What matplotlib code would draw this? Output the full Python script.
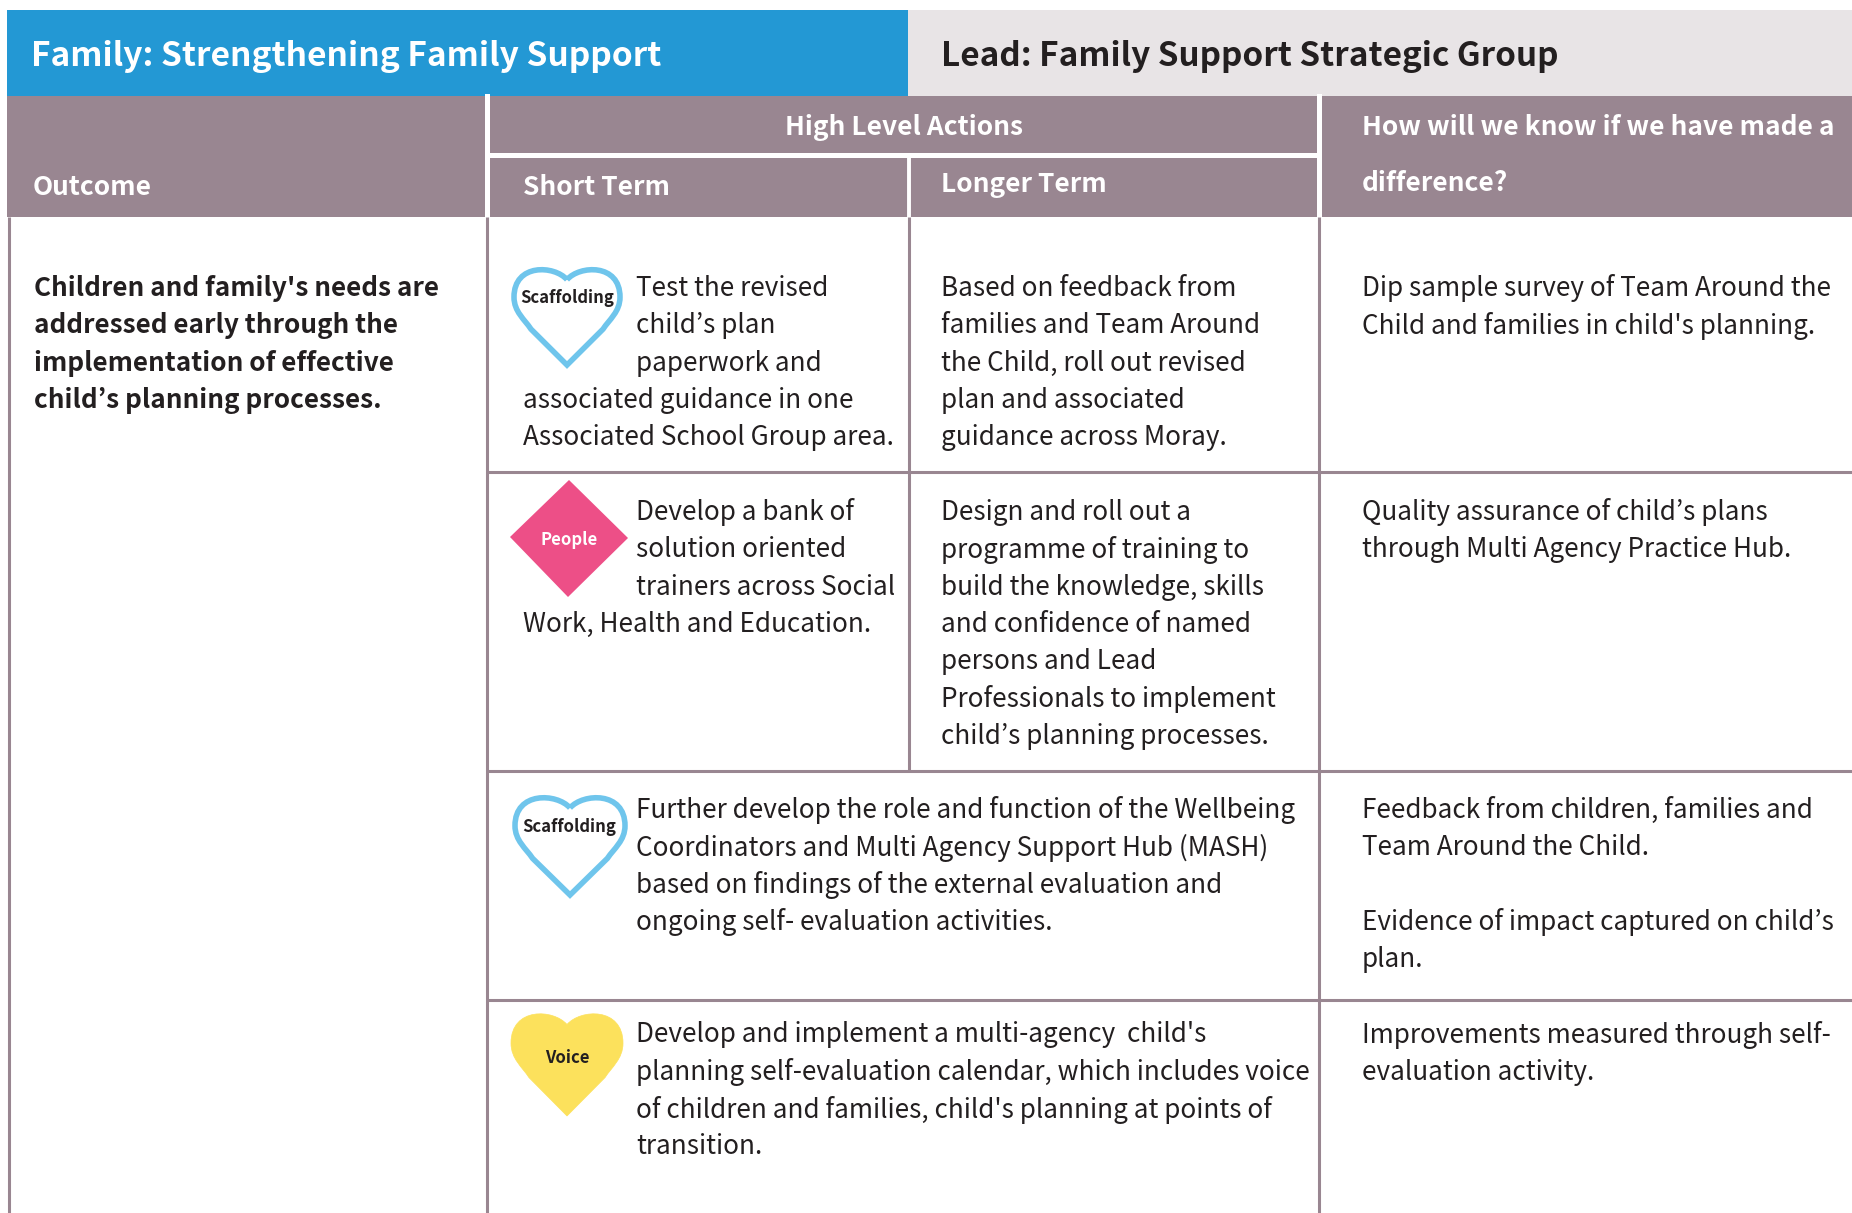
import matplotlib
matplotlib.use("Agg")
import matplotlib.pyplot as plt
from matplotlib.patches import Rectangle, PathPatch, Polygon
from matplotlib.path import Path

# the KR cut keeps the curly apostrophe narrow, the SC one makes it full width
plt.rcParams['font.family'] = ['Noto Sans CJK KR', 'DejaVu Sans']

family_title = "Family: Strengthening Family Support"
lead_title = "Lead: Family Support Strategic Group"
header_labels = ["Outcome", "High Level Actions", "Short Term", "Longer Term"]
difference_lines = ["How will we know if we have made a", "difference?"]

outcome_lines = ["Children and family's needs are", "addressed early through the",
                 "implementation of effective", "child\u2019s planning processes."]

short_1 = ["Test the revised", "child\u2019s plan", "paperwork and"]
short_1_wide = ["associated guidance in one", "Associated School Group area."]
short_2 = ["Develop a bank of", "solution oriented", "trainers across Social"]
short_2_wide = ["Work, Health and Education."]
long_1 = ["Based on feedback from", "families and Team Around", "the Child, roll out revised",
          "plan and associated", "guidance across Moray."]
long_2 = ["Design and roll out a", "programme of training to", "build the knowledge, skills",
          "and confidence of named", "persons and Lead", "Professionals to implement",
          "child\u2019s planning processes."]
span_3 = ["Further develop the role and function of the Wellbeing",
          "Coordinators and Multi Agency Support Hub (MASH)",
          "based on findings of the external evaluation and",
          "ongoing self- evaluation activities."]
span_4 = ["Develop and implement a multi-agency  child's",
          "planning self-evaluation calendar, which includes voice",
          "of children and families, child's planning at points of",
          "transition."]
know_1 = ["Dip sample survey of Team Around the", "Child and families in child's planning."]
know_2 = ["Quality assurance of child\u2019s plans", "through Multi Agency Practice Hub."]
know_3 = ["Feedback from children, families and", "Team Around the Child.", "",
          "Evidence of impact captured on child\u2019s", "plan."]
know_4 = ["Improvements measured through self-", "evaluation activity."]

BLUE = "#2398d4"
LIGHT = "#e8e4e6"
MAUVE = "#998691"
INK = "#231f20"
PITCH = 37.3
BODY = 18.82


def block(ax, x, y, lines, **kw):
    kw.setdefault("fontsize", BODY)
    kw.setdefault("color", INK)
    for i, line in enumerate(lines):
        ax.text(x, y + i * PITCH, line, va="center", ha="left", **kw)


def heart(ax, x0, x1, y0, y1, face, edge, lw):
    # unit heart, 0-1 across and 0-1 top to bottom
    w = x1 - x0
    h = y1 - y0
    unit = [(0.5, 0.12), (0.38, -0.03), (0.0, -0.05), (0.0, 0.3), (0.0, 0.45), (0.1, 0.53), (0.16, 0.63),
            (0.5, 1.0), (0.84, 0.63), (0.9, 0.53), (1.0, 0.45), (1.0, 0.3), (1.0, -0.05), (0.62, -0.03), (0.5, 0.12)]
    codes = [Path.MOVETO, Path.CURVE4, Path.CURVE4, Path.CURVE4, Path.CURVE4, Path.CURVE4, Path.CURVE4,
             Path.LINETO, Path.LINETO, Path.CURVE4, Path.CURVE4, Path.CURVE4, Path.CURVE4, Path.CURVE4, Path.CURVE4]
    verts = [(x0 + u * w, y0 + v * h) for u, v in unit]
    ax.add_patch(PathPatch(Path(verts, codes), facecolor=face, edgecolor=edge, lw=lw, zorder=3))


fig = plt.figure(figsize=(18.52, 12.13), dpi=100)
ax = fig.add_axes([0, 0, 1, 1])
ax.set_xlim(0, 1852)
ax.set_ylim(1213, 0)
ax.axis("off")

# banner
ax.add_patch(Rectangle((7, 10), 901, 86, facecolor=BLUE, lw=0))
ax.add_patch(Rectangle((908, 10), 944, 86, facecolor=LIGHT, lw=0))
ax.text(31, 56.5, family_title, color="white", fontsize=24.1, fontweight="bold", va="center")
ax.text(941, 56.5, lead_title, color=INK, fontsize=23.95, fontweight="bold", va="center")

# header band
ax.add_patch(Rectangle((7, 96), 1845, 121, facecolor=MAUVE, lw=0))
ax.plot([487, 487], [96, 217], color="white", lw=3.6)
ax.plot([1319, 1319], [96, 217], color="white", lw=3.6)
ax.plot([487, 1319], [155, 155], color="white", lw=3.6)
ax.plot([908.5, 908.5], [157, 217], color="white", lw=2.8)
hdr = dict(color="white", fontsize=18.95, fontweight="bold", va="center")
ax.text(33, 187.5, header_labels[0], **hdr)
ax.text(904, 127.5, header_labels[1], ha="center", **hdr)
ax.text(523, 187.5, header_labels[2], **hdr)
ax.text(941, 184.5, header_labels[3], **hdr)
ax.text(1361.5, 127.5, difference_lines[0], **hdr)
ax.text(1361.5, 183.5, difference_lines[1], **hdr)

# grid lines of the body
for x, y0, y1 in [(9, 217, 1213), (487, 217, 1213), (909, 217, 771), (1319, 217, 1213)]:
    ax.plot([x, x], [y0, y1], color=MAUVE, lw=2.2, solid_capstyle="butt")
for y in [472, 771, 1000]:
    ax.plot([487, 1852], [y, y], color=MAUVE, lw=2.2, solid_capstyle="butt")

# text
block(ax, 34, 288.5, outcome_lines, fontweight="bold")
block(ax, 636, 288.5, short_1)
block(ax, 523, 400.5, short_1_wide)
block(ax, 941, 288.5, long_1)
block(ax, 1361.5, 288.5, know_1)
block(ax, 636, 512.5, short_2)
block(ax, 523, 624.5, short_2_wide)
block(ax, 941, 512.5, long_2)
block(ax, 1361.5, 512.5, know_2)
block(ax, 636, 810.5, span_3)
block(ax, 1361.5, 810.5, know_3)
block(ax, 636, 1035, span_4)
block(ax, 1361.5, 1035, know_4)

# icons
icon = dict(ha="center", va="center", fontweight="bold", zorder=4)
heart(ax, 514, 620, 268, 365, "white", "#6fc5ec", 4)
ax.text(567, 298, "Scaffolding", color=INK, fontsize=12, **icon)
ax.add_patch(Polygon([(569, 480), (628, 538), (568, 597), (510, 537)], facecolor="#ed4f87", lw=0, zorder=3))
ax.text(569, 540, "People", color="white", fontsize=12, **icon)
heart(ax, 515, 625, 796, 895, "white", "#6fc5ec", 4)
ax.text(569, 827, "Scaffolding", color=INK, fontsize=12, **icon)
heart(ax, 511, 623, 1012, 1116, "#fce15c", "#fce15c", 0.5)
ax.text(567, 1058, "Voice", color=INK, fontsize=12, **icon)

fig.savefig("out.png", dpi=100)
